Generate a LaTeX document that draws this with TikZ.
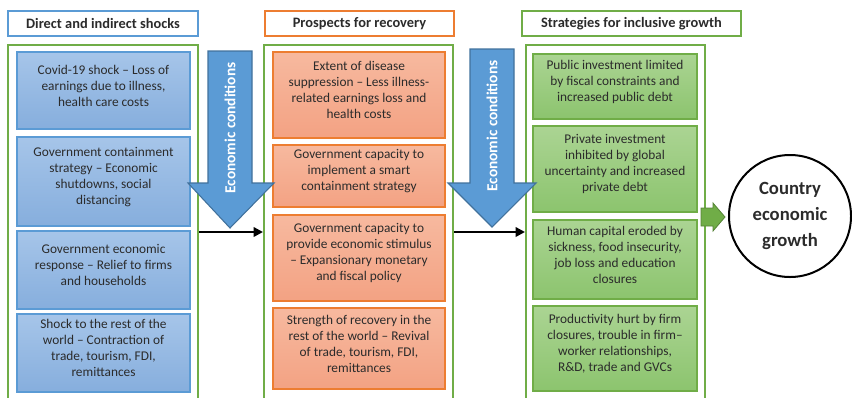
\documentclass[tikz,border=0pt]{standalone}
\usepackage{fontspec}
\setmainfont{Carlito}
\usetikzlibrary{arrows.meta,positioning,fit}

\definecolor{txtgray}{HTML}{2B2B2B}
\definecolor{blueline}{HTML}{5B9BD5}
\definecolor{bluetop}{HTML}{A6C5E9}
\definecolor{bluebot}{HTML}{86AEDD}
\definecolor{blueedge}{HTML}{41719C}
\definecolor{orangeline}{HTML}{ED7D31}
\definecolor{orangetop}{HTML}{F7B99F}
\definecolor{orangebot}{HTML}{F3A283}
\definecolor{greenline}{HTML}{70AD47}
\definecolor{greentop}{HTML}{ABD493}
\definecolor{greenbot}{HTML}{8CC46E}

\begin{document}
\begin{tikzpicture}[x=0.75pt,y=-0.75pt,
  every node/.style={text=txtgray,font=\fontsize{10}{12}\selectfont,align=center,inner sep=0pt},
  head/.style={draw,line width=1.5pt,fill=white,minimum height=18.75pt,font=\bfseries\fontsize{10.8}{12}\selectfont},
  outer/.style={draw=greenline,line width=1.5pt},
  shockbox/.style={draw=blueline,line width=0.8pt,top color=bluetop,bottom color=bluebot},
  recbox/.style={draw=orangeline,line width=0.8pt,top color=orangetop,bottom color=orangebot},
  growbox/.style={draw=greenline,line width=0.8pt,top color=greentop,bottom color=greenbot},
  econ/.style={fill=blueline,draw=blueedge,line width=0.8pt},
  econtext/.style={rotate=90,text=white,font=\bfseries\fontsize{11.5}{12}\selectfont},
  flow/.style={line width=1.8pt,-{Triangle[length=7pt,width=7pt]}}]
\clip (0,0) rectangle (852,397);
\useasboundingbox (0,0) rectangle (852,397);
%\draw[help lines] (0,0) grid[step=50] (852,397);
%
% headers
\node[head,draw=blueline,minimum width=142.5pt] (h1) at (103,23.5) {Direct and indirect shocks};
\node[head,draw=orangeline,minimum width=141.75pt] (h2) at (359.5,23.5) {Prospects for recovery};
\node[head,draw=greenline,minimum width=164.25pt] (h3) at (631.5,23.5) {Strategies for inclusive growth};
%
% column frames
\node[outer,fit={(8,45) (198,420)}] (shk) {};
\node[outer,fit={(264,45) (453,420)}] (rec) {};
\node[outer,fit={(526,45) (705,420)}] (gro) {};
%
\begin{scope}
\foreach \n/\ya/\yb/\t in {1/52/129/{Covid-19 shock -- Loss of\\earnings due to illness,\\health care costs},
  2/137/226/{Government containment\\strategy -- Economic\\shutdowns, social\\distancing},
  3/231/309/{Government economic\\response -- Relief to firms\\and households},
  4/314/392/{Shock to the rest of the\\world -- Contraction of\\trade, tourism, FDI,\\remittances}}
\node[shockbox,fit={(17,\ya) (190,\yb)}] (s\n) {\t};
\end{scope}
%
\begin{scope}
\foreach \n/\ya/\yb/\t in {1/52/138/{Extent of disease\\suppression -- Less illness-\\related earnings loss and\\health costs},
  2/145/207/{Government capacity to\\implement a smart\\containment strategy},
  3/215/301/{Government capacity to\\provide economic stimulus\\-- Expansionary monetary\\and fiscal policy},
  4/308/389/{Strength of recovery in the\\rest of the world -- Revival\\of trade, tourism, FDI,\\remittances}}
\node[recbox,fit={(273,\ya) (445,\yb)}] (r\n) {\t};
\end{scope}
%
\begin{scope}
\foreach \n/\ya/\yb/\t in {1/54/119/{Public investment limited\\by fiscal constraints and\\increased public debt},
  2/126/212/{Private investment\\inhibited by global\\uncertainty and increased\\private debt},
  3/220/299/{Human capital eroded by\\sickness, food insecurity,\\job loss and education\\closures},
  4/306/391/{Productivity hurt by firm\\closures, trouble in firm--\\worker relationships,\\R\&D, trade and GVCs}}
\node[growbox,fit={(533,\ya) (697,\yb)}] (g\n) {\t};
\end{scope}
%
% economic conditions arrows
\draw[econ] (208,51) -- (252,51) -- (252,183) -- (274,183) -- (230,228) -- (188,183) -- (208,183) -- cycle;
\node[econtext] (ec1) at (230,128) {Economic conditions};
\draw[econ] (470,49) -- (514,49) -- (514,183) -- (536,183) -- (492,227) -- (448,183) -- (470,183) -- cycle;
\node[econtext] (ec2) at (492,126) {Economic conditions};
%
\coordinate (m) at (0,232);
\draw[flow] (shk.east |- m) -- (rec.west |- m);
\draw[flow] (rec.east |- m) -- (gro.west |- m);
%
\node[draw,circle,line width=1.5pt,minimum size=91.5pt,font=\bfseries\fontsize{14}{19.5}\selectfont] (ceg) at (790,216) {Country\\economic\\growth};
\draw[fill=greenline,draw=greenline!75!black,line width=0.6pt] (701,208) -- (713,208) -- (713,203) -- (725,217) -- (713,231) -- (713,226) -- (701,226) -- cycle;
\end{tikzpicture}
\end{document}
